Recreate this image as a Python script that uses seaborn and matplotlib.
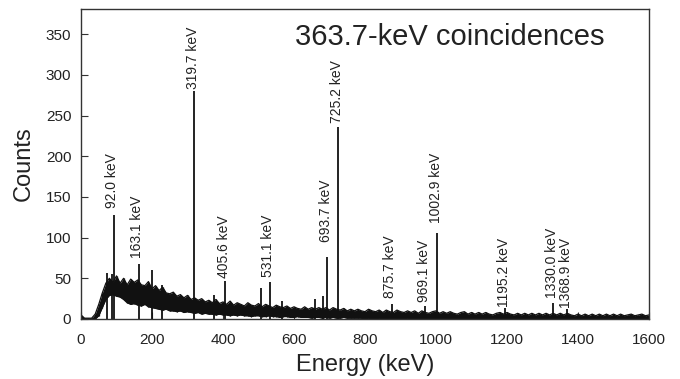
import numpy as np
import pandas as pd
import matplotlib
matplotlib.use("Agg")
import matplotlib.pyplot as plt
import seaborn as sns

# ---- data ----
# continuum envelope every 10 keV (0 .. 1600 keV)
band_hi = [5, 1, 1, 1, 6, 18, 32, 44, 50, 45,
           53, 44, 50, 42, 49, 45, 48, 42, 41, 46,
           37, 41, 35, 39, 32, 31, 33, 28, 30, 26,
           29, 24, 26, 23, 25, 21, 23, 20, 24, 19,
           21, 18, 22, 17, 20, 18, 16, 20, 17, 16,
           19, 15, 18, 16, 14, 17, 15, 14, 16, 13,
           15, 13, 12, 15, 12, 14, 12, 14, 12, 14,
           11, 14, 12, 11, 13, 10, 12, 10, 12, 10,
           9, 12, 10, 9, 11, 8, 11, 9, 8, 11,
           9, 8, 10, 8, 10, 7, 10, 8, 7, 9,
           10, 7, 9, 7, 9, 7, 6, 8, 9, 6,
           8, 6, 8, 6, 8, 6, 5, 7, 8, 6,
           8, 6, 5, 7, 5, 7, 5, 7, 5, 7,
           5, 7, 5, 7, 5, 7, 5, 7, 5, 4,
           6, 4, 6, 4, 6, 4, 6, 4, 6, 4,
           6, 4, 6, 4, 5, 6, 4, 5, 6, 4,
           5]
band_lo = [0, 0, 0, 0, 0, 4, 14, 24, 29, 30,
           28, 27, 24, 20, 18, 19, 17, 16, 18, 15,
           14, 13, 12, 11, 12, 10, 10, 9, 10, 8,
           9, 8, 7, 8, 6, 7, 6, 6, 5, 6,
           5, 5, 4, 5, 4, 5, 4, 4, 3, 4,
           4, 3, 3, 4, 3, 3, 2, 3, 3, 2,
           2, 3, 2, 2, 2, 1, 2, 2, 1, 2,
           1, 2, 1, 1, 2, 1, 1, 1, 1, 1,
           0, 1, 0, 0, 1, 0, 0, 1, 0, 0,
           0, 0, 1, 0, 0, 0, 0, 1, 0, 0,
           0, 0, 0, 0, 0, 0, 0, 0, 0, 0,
           0, 0, 0, 0, 0, 0, 0, 0, 0, 0,
           0, 0, 0, 0, 0, 0, 0, 0, 0, 0,
           0, 0, 0, 0, 0, 0, 0, 0, 0, 0,
           0, 0, 0, 0, 0, 0, 0, 0, 0, 0,
           0, 0, 0, 0, 0, 0, 0, 0, 0, 0,
           0]
band_energy = list(range(0, 1601, 10))

# sharp lines (keV, counts)
peak_energy = [73, 86, 92.0, 163.1, 199, 228, 319.7, 375, 405.6, 508, 531.1,
               566, 660, 682, 693.7, 725.2, 875.7, 969.1, 1002.9, 1195.2,
               1330.0, 1368.9]
peak_counts = [57, 55, 128, 67, 60, 42, 280, 30, 47, 38, 46,
               22, 24, 28, 76, 236, 18, 16, 106, 14,
               20, 12]

# labelled lines
label_energy = [92.0, 163.1, 319.7, 405.6, 531.1, 693.7, 725.2, 875.7,
                969.1, 1002.9, 1195.2, 1330.0, 1368.9]
label_text = ["92.0 keV", "163.1 keV", "319.7 keV", "405.6 keV", "531.1 keV",
              "693.7 keV", "725.2 keV", "875.7 keV", "969.1 keV",
              "1002.9 keV", "1195.2 keV", "1330.0 keV", "1368.9 keV"]
label_y = [136, 75, 283, 50, 52, 95, 241, 26, 21, 118, 15, 26, 14]

title_text = "363.7-keV coincidences"
x_ticks = [0, 200, 400, 600, 800, 1000, 1200, 1400, 1600]
y_ticks = [0, 50, 100, 150, 200, 250, 300, 350]

# ---- plot ----
sns.set_theme(style="ticks")
plt.rcParams["font.family"] = ["Liberation Sans", "DejaVu Sans"]

fig = plt.figure(figsize=(6.8, 3.79), dpi=100)
ax = fig.add_axes([81 / 680, 60 / 379, 568 / 680, 310 / 379])

df = pd.DataFrame({"E": band_energy, "hi": band_hi, "lo": band_lo})
ax.fill_between(df["E"], df["lo"], df["hi"], color="#111111", lw=0)
sns.lineplot(data=df, x="E", y="hi", ax=ax, color="#111111", lw=0.9)
sns.lineplot(data=df, x="E", y="lo", ax=ax, color="#111111", lw=0.9)
ax.vlines(df["E"], df["lo"], df["hi"], color="#111111", lw=0.9)

ax.vlines(peak_energy, 0, peak_counts, color="#111111", lw=1.3)

for xe, yl, t in zip(label_energy, label_y, label_text):
    ax.text(xe - 4, yl, t, rotation=90, ha="center", va="bottom",
            fontsize=10, color="#222222")

ax.text(0.377, 0.91, title_text, transform=ax.transAxes, ha="left",
        va="center", fontsize=21, color="#222222")

ax.set_xlim(0, 1600)
ax.set_ylim(0, 381)
ax.set_xticks(x_ticks)
ax.set_yticks(y_ticks)
ax.tick_params(axis="both", direction="in", length=5, width=0.8,
               labelsize=11, colors="#333333", labelcolor="#222222")
ax.tick_params(axis="x", pad=10)
ax.tick_params(axis="y", pad=7)
for s in ax.spines.values():
    s.set_visible(True)
    s.set_color("#333333")
    s.set_linewidth(1.0)

ax.set_xlabel("Energy (keV)", fontsize=17, color="#222222", labelpad=5)
ax.set_ylabel("Counts", fontsize=17, color="#222222", labelpad=8)

fig.savefig("out.png", dpi=100)
